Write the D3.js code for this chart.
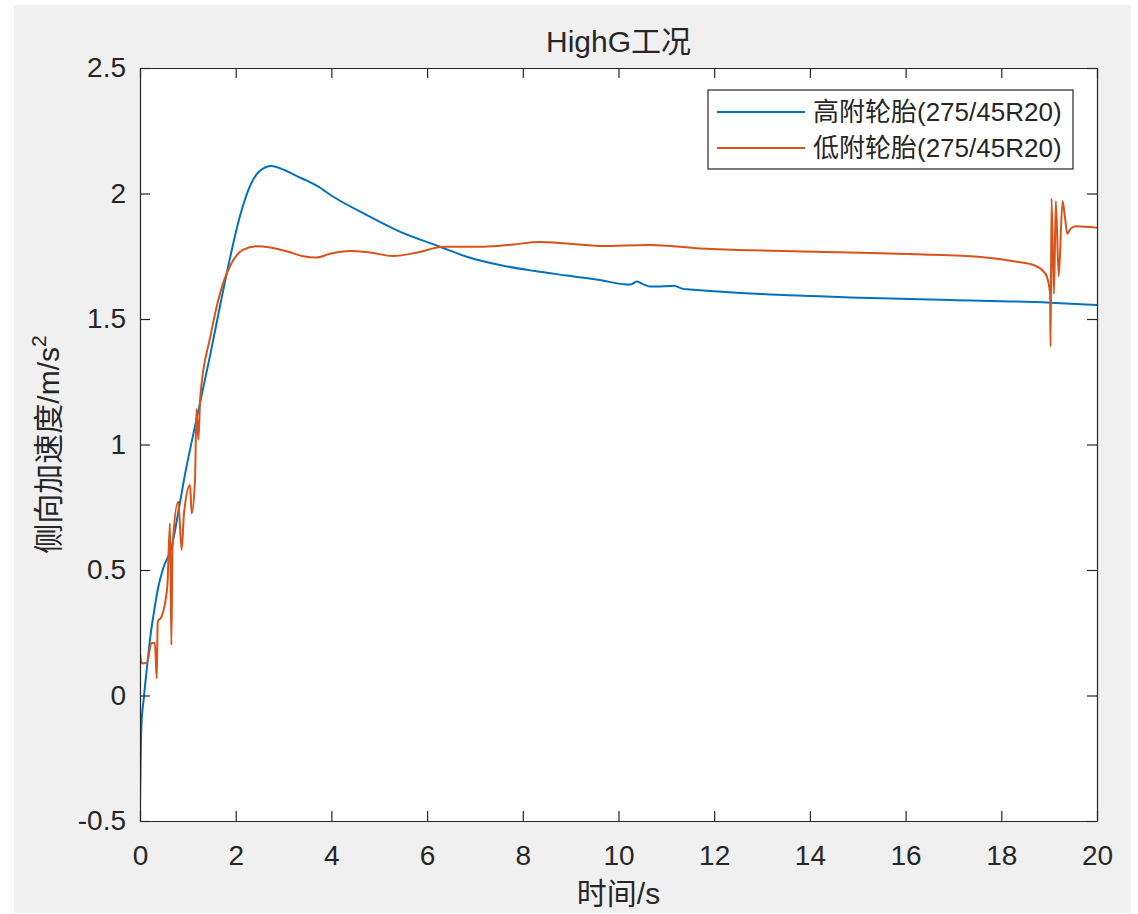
<!DOCTYPE html>
<html>
<head>
<meta charset="utf-8">
<script src="https://cdn.jsdelivr.net/npm/d3@7"></script>
<style>
  body { margin: 0; background: #fff; }
  svg { display: block; }
  text { font-family: "Liberation Sans", Arial, "Noto Sans CJK SC", sans-serif; fill: #262626; }
</style>
</head>
<body>
<svg width="1138" height="914"></svg>
<script>
// high-grip tyre
var tHigh = [0, 0.01, 0.03, 0.08, 0.15, 0.22, 0.29, 0.38, 0.49, 0.66, 0.8, 0.92, 1.18, 1.46, 1.67, 1.81, 2.09, 2.3, 2.5, 2.75, 3.0, 3.27, 3.5, 3.7, 4.04, 4.74, 5.43, 6.27, 6.83, 7.52, 8.22, 8.92, 9.61, 10.14, 10.25, 10.38, 10.5, 10.66, 11.08, 11.15, 11.35, 11.49, 12.75, 14.84, 16.93, 19.02, 20];
var aHigh = [-0.43, -0.3, -0.12, -0.01, 0.12, 0.24, 0.33, 0.43, 0.51, 0.59, 0.73, 0.86, 1.10, 1.35, 1.55, 1.68, 1.91, 2.03, 2.09, 2.11, 2.095, 2.07, 2.05, 2.03, 1.987, 1.914, 1.848, 1.788, 1.748, 1.715, 1.692, 1.673, 1.655, 1.638, 1.637, 1.649, 1.64, 1.629, 1.631, 1.632, 1.620, 1.618, 1.602, 1.586, 1.576, 1.565, 1.556];

// low-grip tyre
var tLow = [0, 0.035, 0.14, 0.24, 0.31, 0.35, 0.37, 0.45, 0.57, 0.627, 0.655, 0.68, 0.80, 0.87, 0.92, 1.045, 1.08, 1.15, 1.18, 1.22, 1.26, 1.47, 1.67, 1.88, 2.15, 2.44, 2.72, 3.06, 3.41, 3.69, 3.97, 4.39, 4.8, 5.29, 5.78, 6.34, 7.17, 7.8, 8.36, 8.92, 9.61, 10.66, 11.7, 12.05, 14.14, 16.23, 17.62, 18.32, 18.67, 18.88, 18.95, 19.02, 19.03, 19.05, 19.1, 19.14, 19.2, 19.28, 19.33, 19.38, 19.45, 19.56, 20];
var aLow = [0.168, 0.128, 0.13, 0.208, 0.21, 0.068, 0.294, 0.314, 0.433, 0.686, 0.20, 0.593, 0.772, 0.58, 0.726, 0.839, 0.726, 0.86, 1.14, 1.02, 1.19, 1.43, 1.60, 1.71, 1.775, 1.79, 1.785, 1.77, 1.75, 1.745, 1.76, 1.771, 1.765, 1.751, 1.764, 1.788, 1.788, 1.797, 1.807, 1.801, 1.791, 1.795, 1.781, 1.778, 1.768, 1.758, 1.746, 1.728, 1.715, 1.69, 1.67, 1.60, 1.39, 1.98, 1.60, 1.97, 1.67, 1.97, 1.907, 1.84, 1.86, 1.87, 1.864];

var seriesNames = ['高附轮胎(275/45R20)', '低附轮胎(275/45R20)'];
var seriesColors = ['#0072BD', '#D95319'];
var xTicks = [0, 2, 4, 6, 8, 10, 12, 14, 16, 18, 20];
var yTicks = [-0.5, 0, 0.5, 1, 1.5, 2, 2.5];

var svg = d3.select('svg');
var plotL = 140, plotR = 1097, plotT = 68, plotB = 821;

// figure background
svg.append('rect').attr('x', 14).attr('y', 5).attr('width', 1117).attr('height', 908).attr('fill', '#f0f0f0');
svg.append('rect').attr('x', plotL).attr('y', plotT).attr('width', plotR - plotL).attr('height', plotB - plotT).attr('fill', '#fff');

var x = d3.scaleLinear().domain([0, 20]).range([plotL, plotR]);
var y = d3.scaleLinear().domain([-0.5, 2.5]).range([plotB, plotT]);

svg.append('clipPath').attr('id', 'clip')
	.append('rect').attr('x', plotL).attr('y', plotT).attr('width', plotR - plotL).attr('height', plotB - plotT);

var line = d3.line()
	.x(function(d) { return x(d[0]); })
	.y(function(d) { return y(d[1]); })
	.curve(d3.curveMonotoneX);

var series = [d3.zip(tHigh, aHigh), d3.zip(tLow, aLow)];

svg.append('g').attr('clip-path', 'url(#clip)')
	.selectAll('path')
	.data(series)
	.enter()
	.append('path')
	.attr('d', line)
	.attr('fill', 'none')
	.attr('stroke', function(d, i) { return seriesColors[i]; })
	.attr('stroke-width', 2)
	.attr('stroke-linejoin', 'round');

// axes, ticks pointing inward like matlab
function styleAxis(g) {
	g.selectAll('path, line').attr('stroke', '#262626').attr('stroke-width', 1.2);
	g.selectAll('text').attr('font-size', 28).attr('fill', '#262626')
		.attr('font-family', '"Liberation Sans", Arial, sans-serif');
}

svg.append('g').attr('transform', 'translate(0,' + plotB + ')')
	.call(d3.axisBottom(x).tickValues(xTicks).tickSizeInner(-10).tickSizeOuter(0).tickPadding(24).tickFormat(String))
	.call(styleAxis);
svg.append('g').attr('transform', 'translate(0,' + plotT + ')')
	.call(d3.axisTop(x).tickValues(xTicks).tickSizeInner(-10).tickSizeOuter(0).tickFormat(''))
	.call(styleAxis);
svg.append('g').attr('transform', 'translate(' + plotL + ',0)')
	.call(d3.axisLeft(y).tickValues(yTicks).tickSizeInner(-10).tickSizeOuter(0).tickPadding(14).tickFormat(String))
	.call(styleAxis);
svg.append('g').attr('transform', 'translate(' + plotR + ',0)')
	.call(d3.axisRight(y).tickValues(yTicks).tickSizeInner(-10).tickSizeOuter(0).tickFormat(''))
	.call(styleAxis);

// title and labels
svg.append('text').attr('x', (plotL + plotR) / 2).attr('y', 52).attr('text-anchor', 'middle')
	.attr('font-size', 30).text('HighG工况');

svg.append('text').attr('x', (plotL + plotR) / 2).attr('y', 904).attr('text-anchor', 'middle')
	.attr('font-size', 30).text('时间/s');

var yl = svg.append('text').attr('transform', 'translate(59,' + ((plotT + plotB) / 2) + ') rotate(-90)')
	.attr('text-anchor', 'middle').attr('font-size', 30);
yl.append('tspan').text('侧向加速度/m/s');
yl.append('tspan').attr('dy', -13).attr('font-size', 21).text('2');

// legend
var legend = svg.append('g');
legend.append('rect').attr('x', 708).attr('y', 90).attr('width', 365).attr('height', 79)
	.attr('fill', '#fff').attr('stroke', '#262626').attr('stroke-width', 1.2);

var items = legend.selectAll('g.item').data(seriesNames).enter().append('g')
	.attr('transform', function(d, i) { return 'translate(0,' + (112 + i * 36) + ')'; });
items.append('line').attr('x1', 717).attr('x2', 805)
	.attr('stroke', function(d, i) { return seriesColors[i]; }).attr('stroke-width', 2);
items.append('text').attr('x', 813).attr('dy', '0.36em').attr('font-size', 26).text(function(d) { return d; });
</script>
</body>
</html>
